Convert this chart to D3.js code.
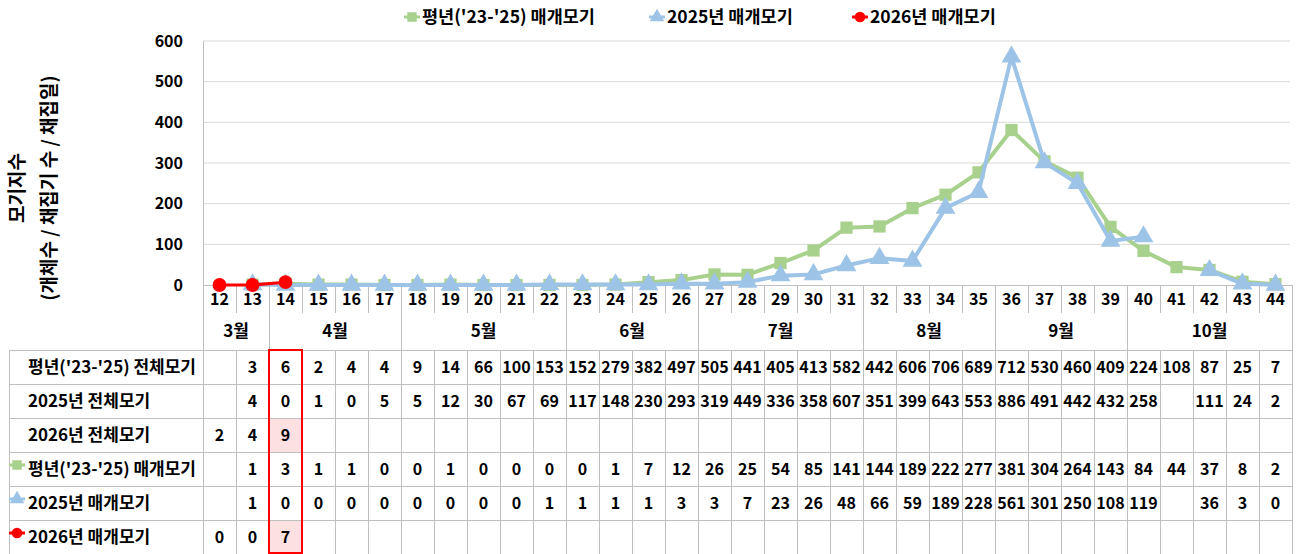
<!DOCTYPE html>
<html>
<head>
<meta charset="utf-8">
<script src="https://cdn.jsdelivr.net/npm/d3@7"></script>
<style>
  body { margin: 0; background: #fff; }
  svg { display: block; font-family: "Noto Sans CJK KR", "Noto Sans", sans-serif; font-weight: bold; }
</style>
</head>
<body>
<svg id="chart" width="1296" height="554"></svg>
<script>
// weeks 12 ~ 44
var weeks = d3.range(12, 45);
var months = [
    { name: "3월", from: 12, to: 13 },
    { name: "4월", from: 14, to: 17 },
    { name: "5월", from: 18, to: 22 },
    { name: "6월", from: 23, to: 26 },
    { name: "7월", from: 27, to: 31 },
    { name: "8월", from: 32, to: 35 },
    { name: "9월", from: 36, to: 39 },
    { name: "10월", from: 40, to: 44 }
];
var yTicks = [0, 100, 200, 300, 400, 500, 600];

// 전체모기 (table only)
var avgTotal = [null, 3, 6, 2, 4, 4, 9, 14, 66, 100, 153, 152, 279, 382, 497, 505, 441, 405, 413, 582, 442, 606, 706, 689, 712, 530, 460, 409, 224, 108, 87, 25, 7];
var total2025 = [null, 4, 0, 1, 0, 5, 5, 12, 30, 67, 69, 117, 148, 230, 293, 319, 449, 336, 358, 607, 351, 399, 643, 553, 886, 491, 442, 432, 258, null, 111, 24, 2];
var total2026 = [2, 4, 9];

// 매개모기 (lines + table)
var avgVector = [null, 1, 3, 1, 1, 0, 0, 1, 0, 0, 0, 0, 1, 7, 12, 26, 25, 54, 85, 141, 144, 189, 222, 277, 381, 304, 264, 143, 84, 44, 37, 8, 2];
var vector2025 = [null, 1, 0, 0, 0, 0, 0, 0, 0, 0, 1, 1, 1, 1, 3, 3, 7, 23, 26, 48, 66, 59, 189, 228, 561, 301, 250, 108, 119, null, 36, 3, 0];
var vector2026 = [0, 0, 7];

var highlightWeek = 14;

var GREEN = "#a9d18e", BLUE = "#9dc3e6", RED = "#ff0000", GRID = "#d9d9d9", BORDER = "#bfbfbf";

var svg = d3.select("#chart");

var x0 = 203, x1 = 1292;
var x = d3.scaleBand().domain(weeks).range([x0, x1]);
var y = d3.scaleLinear().domain([0, 600]).range([285, 41]);
var cx = function (w) { return x(w) + x.bandwidth() / 2; };

// gridlines
svg.append("g").selectAll("line")
    .data(yTicks.slice(1))
    .enter().append("line")
    .attr("x1", x0).attr("x2", x1 - 2)
    .attr("y1", function (d) { return y(d); }).attr("y2", function (d) { return y(d); })
    .attr("stroke", GRID).attr("stroke-width", 1);

// y axis labels
var yAxis = svg.append("g")
    .attr("transform", "translate(" + x0 + ",0)")
    .call(d3.axisLeft(y).tickValues(yTicks).tickSize(0).tickPadding(20));
yAxis.select(".domain").remove();
yAxis.selectAll("text")
    .style("font-family", "'Noto Sans CJK KR', sans-serif")
    .style("font-weight", "bold")
    .style("font-size", "16px")
    .attr("fill", "#000");

// y axis title
var ttl = svg.append("g").attr("transform", "translate(17,188) rotate(-90)");
ttl.append("text").attr("text-anchor", "middle").attr("dy", "0.35em")
    .style("font-size", "19px").text("모기지수");
ttl.append("text").attr("text-anchor", "middle").attr("y", 32).attr("dy", "0.35em")
    .style("font-size", "19px").text("(개체수 / 채집기 수 / 채집일)");

// frame / table lines
var lines = svg.append("g").attr("stroke", BORDER).attr("stroke-width", 1).attr("shape-rendering", "crispEdges");
lines.append("line").attr("x1", x0).attr("x2", x0).attr("y1", 41).attr("y2", 554);
lines.append("line").attr("x1", x0).attr("x2", x1).attr("y1", 285).attr("y2", 285);
lines.append("line").attr("x1", x1).attr("x2", x1).attr("y1", 285).attr("y2", 554);

var monthStarts = months.map(function (m) { return m.from; });
weeks.slice(1).forEach(function (w) {
    var isMonth = monthStarts.indexOf(w) >= 0;
    lines.append("line")
        .attr("x1", x(w)).attr("x2", x(w))
        .attr("y1", 285).attr("y2", isMonth ? 554 : 313);
    if (!isMonth) {
        lines.append("line").attr("x1", x(w)).attr("x2", x(w)).attr("y1", 350).attr("y2", 554);
    }
});

// week labels
svg.append("g").selectAll("text")
    .data(weeks)
    .enter().append("text")
    .attr("x", cx).attr("y", 299).attr("dy", "0.35em")
    .attr("text-anchor", "middle")
    .style("font-size", "16px")
    .text(function (d) { return d; });

// month labels
svg.append("g").selectAll("text")
    .data(months)
    .enter().append("text")
    .attr("x", function (m) { return (x(m.from) + x(m.to) + x.bandwidth()) / 2; })
    .attr("y", 331).attr("dy", "0.35em")
    .attr("text-anchor", "middle")
    .style("font-size", "17px")
    .text(function (m) { return m.name; });

// data table
var rowTop = 350, rowH = 34;
var rows = [
    { label: "평년('23-'25) 전체모기", values: avgTotal },
    { label: "2025년 전체모기", values: total2025 },
    { label: "2026년 전체모기", values: total2026, hl: true },
    { label: "평년('23-'25) 매개모기", values: avgVector, mark: "square", color: GREEN },
    { label: "2025년 매개모기", values: vector2025, mark: "triangle", color: BLUE },
    { label: "2026년 매개모기", values: vector2026, mark: "circle", color: RED, hl: true }
];

// pink highlight cells
rows.forEach(function (r, i) {
    if (r.hl) {
        svg.append("rect")
            .attr("x", x(highlightWeek)).attr("y", rowTop + i * rowH)
            .attr("width", x.bandwidth()).attr("height", rowH)
            .attr("fill", "#fde0e2");
    }
});

d3.range(rows.length + 1).forEach(function (i) {
    lines.append("line").attr("x1", 9).attr("x2", x1)
        .attr("y1", rowTop + i * rowH).attr("y2", rowTop + i * rowH);
});
lines.append("line").attr("x1", 9).attr("x2", 9).attr("y1", rowTop).attr("y2", 554);
lines.raise();

var symbolType = { square: d3.symbolSquare, triangle: d3.symbolTriangle, circle: d3.symbolCircle };

rows.forEach(function (r, i) {
    var ry = rowTop + i * rowH + rowH / 2;
    svg.append("text").attr("x", 28).attr("y", ry).attr("dy", "0.35em")
        .style("font-size", "17px").text(r.label);
    if (r.mark) {
        svg.append("line").attr("x1", 9).attr("x2", 25).attr("y1", ry - 4).attr("y2", ry - 4)
            .attr("stroke", r.color).attr("stroke-width", 3);
        svg.append("path").attr("d", d3.symbol().type(symbolType[r.mark]).size(90)())
            .attr("transform", "translate(17," + (ry - 4) + ")").attr("fill", r.color);
    }
    svg.append("g").selectAll("text")
        .data(r.values.map(function (v, j) { return { w: weeks[j], v: v }; }).filter(function (d) { return d.v != null; }))
        .enter().append("text")
        .attr("x", function (d) { return cx(d.w); }).attr("y", ry).attr("dy", "0.35em")
        .attr("text-anchor", "middle")
        .style("font-size", "16px")
        .text(function (d) { return d.v; });
});

// red box on current week
svg.append("rect")
    .attr("x", x(highlightWeek)).attr("y", rowTop)
    .attr("width", x.bandwidth()).attr("height", rowH * rows.length - 1)
    .attr("fill", "none").attr("stroke", RED).attr("stroke-width", 2);

// series lines
var series = [
    { name: "평년('23-'25) 매개모기", values: avgVector, color: GREEN, mark: "square", size: 150, width: 4 },
    { name: "2025년 매개모기", values: vector2025, color: BLUE, mark: "triangle", size: 170, width: 4 },
    { name: "2026년 매개모기", values: vector2026, color: RED, mark: "circle", size: 150, width: 3 }
];

var line = d3.line()
    .defined(function (d) { return d.v != null; })
    .x(function (d) { return cx(d.w); })
    .y(function (d) { return y(d.v); });

series.forEach(function (s) {
    var pts = s.values.map(function (v, j) { return { w: weeks[j], v: v }; });
    svg.append("path").datum(pts)
        .attr("d", line)
        .attr("fill", "none").attr("stroke", s.color).attr("stroke-width", s.width)
        .attr("stroke-linejoin", "round");
    svg.append("g").selectAll("path")
        .data(pts.filter(function (d) { return d.v != null; }))
        .enter().append("path")
        .attr("d", d3.symbol().type(symbolType[s.mark]).size(s.size)())
        .attr("transform", function (d) { return "translate(" + cx(d.w) + "," + y(d.v) + ")"; })
        .attr("fill", s.color);
});

// legend
var legendX = [412, 657, 860];
series.forEach(function (s, i) {
    var g = svg.append("g").attr("transform", "translate(" + legendX[i] + ",17)");
    g.append("line").attr("x1", -8).attr("x2", 8).attr("stroke", s.color).attr("stroke-width", 3);
    g.append("path").attr("d", d3.symbol().type(symbolType[s.mark]).size(90)()).attr("fill", s.color);
    g.append("text").attr("x", 10).attr("dy", "0.35em").style("font-size", "17.5px").text(s.name);
});
</script>
</body>
</html>
